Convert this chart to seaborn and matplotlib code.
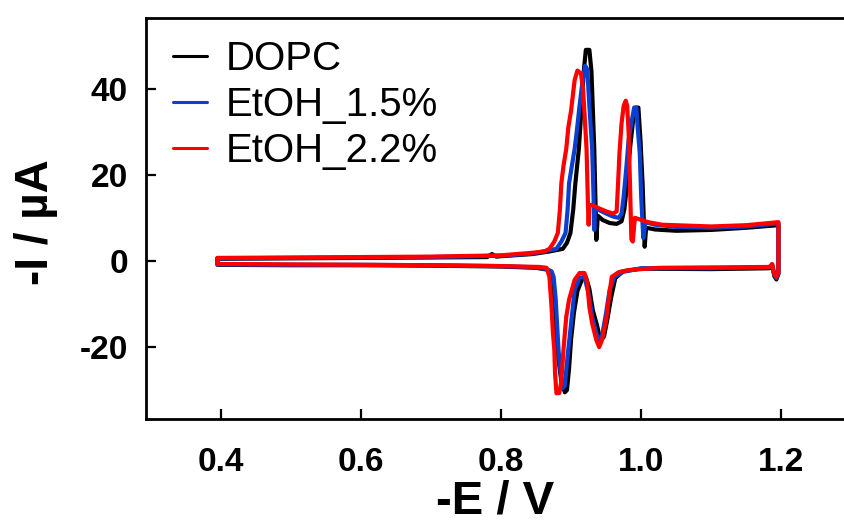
import matplotlib
matplotlib.use("Agg")
import matplotlib.pyplot as plt
import seaborn as sns

# cyclic voltammograms, potential in V (-E), current in uA (-I)
# path: upper branch left -> right, drop at 1.196 V, lower branch right -> left

dopc_e = [0.395, 0.50, 0.60, 0.70, 0.78, 0.787, 0.793, 0.80, 0.845, 0.869, 0.888,
          0.894, 0.899, 0.903, 0.906, 0.911, 0.915, 0.918, 0.921, 0.926, 0.929, 0.933,
          0.935, 0.936, 0.938, 0.945, 0.955, 0.965, 0.972, 0.976, 0.980, 0.984, 0.988,
          0.992, 0.996, 0.999, 1.002, 1.005, 1.007, 1.02, 1.05, 1.10, 1.15, 1.196,
          1.196, 1.193, 1.190, 1.187, 1.183, 1.10, 1.00, 0.974, 0.963, 0.957, 0.952,
          0.947, 0.942, 0.937, 0.931, 0.926, 0.921, 0.915, 0.909, 0.904, 0.900, 0.897,
          0.894, 0.891, 0.886, 0.882, 0.879, 0.876, 0.872, 0.865, 0.85, 0.80, 0.70,
          0.60, 0.50, 0.395, 0.395]
dopc_i = [0.5, 0.6, 0.7, 0.8, 0.9, 1.6, 1.0, 1.1, 1.6, 2.2, 2.8,
          4.2, 6.5, 12, 18, 26, 36, 44, 49, 49, 44, 26,
          12, 4.9, 10.5, 9.5, 8.8, 8.6, 9.2, 12, 18, 26, 32,
          35.6, 35.6, 28, 18, 3.3, 7.7, 7.3, 7.0, 7.2, 7.7, 8.3,
          -3.0, -4.3, -3.5, -1.0, -1.7, -1.9, -1.8, -2.4, -4.0, -8.6, -13.3,
          -17.5, -18.6, -15.0, -11.5, -6.5, -3.7, -4.5, -7.0, -12, -18, -25,
          -30, -30.5, -28, -23, -17, -9, -3.0, -2.0, -1.6, -1.3, -1.1,
          -1.0, -1.0, -0.9, 0.5]

etoh15_e = [0.395, 0.50, 0.60, 0.70, 0.80, 0.845, 0.869, 0.879, 0.886, 0.892,
            0.895, 0.897, 0.905, 0.908, 0.912, 0.916, 0.920, 0.923, 0.926, 0.930,
            0.932, 0.933, 0.934, 0.940, 0.950, 0.960, 0.968, 0.972, 0.975, 0.979,
            0.982, 0.986, 0.990, 0.993, 0.995, 0.998, 1.000, 1.003, 1.006, 1.02,
            1.05, 1.10, 1.15, 1.196,
            1.196, 1.193, 1.190, 1.187, 1.183, 1.10, 1.00, 0.975, 0.962, 0.955,
            0.950, 0.944, 0.940, 0.936, 0.930, 0.926, 0.919, 0.912, 0.905, 0.900,
            0.895, 0.891, 0.888, 0.885, 0.882, 0.880, 0.878, 0.875, 0.872, 0.865,
            0.85, 0.80, 0.70, 0.60, 0.50, 0.395, 0.395]
etoh15_i = [0.6, 0.7, 0.8, 0.9, 1.2, 1.7, 2.5, 2.8, 4.5, 6.5,
            12, 18, 26, 30, 36, 41.4, 45.3, 44.5, 36, 26,
            15, 7.2, 12.5, 11.8, 11.0, 10.3, 10.0, 11, 15, 22,
            28, 32, 35.6, 35.6, 31, 25, 15, 5.3, 9.0, 8.4,
            7.9, 7.7, 8.0, 8.7,
            -2.8, -4.0, -3.2, -0.9, -1.5, -1.7, -1.7, -2.5, -3.7, -6.7,
            -12, -17.5, -18.4, -16.7, -13, -8.4, -3.7, -3.9, -6.7, -14.4,
            -22, -29, -29.5, -26, -20.7, -15, -9, -3.7, -2.4, -1.9,
            -1.5, -1.2, -1.0, -0.9, -0.9, -0.8, 0.6]

etoh22_e = [0.395, 0.50, 0.60, 0.70, 0.80, 0.845, 0.862, 0.869, 0.876, 0.881,
            0.884, 0.886, 0.889, 0.893, 0.896, 0.900, 0.905, 0.909, 0.914, 0.917,
            0.922, 0.924, 0.925, 0.926, 0.930, 0.940, 0.950, 0.960, 0.965, 0.967,
            0.969, 0.972, 0.975, 0.978, 0.980, 0.982, 0.984, 0.986, 0.988, 0.991,
            0.995, 1.01, 1.03, 1.10, 1.15, 1.196,
            1.196, 1.193, 1.190, 1.187, 1.183, 1.10, 1.026, 0.983, 0.968, 0.958,
            0.954, 0.950, 0.944, 0.940, 0.936, 0.930, 0.926, 0.923, 0.919, 0.912,
            0.905, 0.897, 0.893, 0.889, 0.886, 0.883, 0.879, 0.877, 0.876, 0.874,
            0.872, 0.869, 0.865, 0.855, 0.80, 0.70, 0.60, 0.50, 0.395, 0.395]
etoh22_i = [0.7, 0.8, 0.9, 1.0, 1.3, 1.9, 2.2, 2.8, 4.5, 6.5,
            12, 18, 22, 26, 31, 35, 42, 44.2, 43.5, 40,
            26, 13, 8.4, 13, 13, 12.2, 11.5, 11.0, 11.5, 18,
            25, 32, 36, 37.2, 36, 30, 18, 5.0, 4.5, 10,
            9.8, 9.0, 8.4, 8.0, 8.3, 9.0,
            -2.5, -3.7, -3.0, -0.7, -1.4, -1.5, -1.6, -2.1, -2.6, -3.7,
            -8.4, -13.7, -18.4, -20, -18.4, -14.5, -10.7, -5.0, -2.8, -2.8,
            -4.4, -9.0, -13, -20.7, -28, -30.7, -30.7, -26, -20.7, -16.7,
            -10.7, -3.7, -1.6, -1.4, -1.2, -1.0, -0.9, -0.8, -0.7, 0.7]

series = [
    ("DOPC", dopc_e, dopc_i, "black"),
    ("EtOH_1.5%", etoh15_e, etoh15_i, "#0b3fd0"),
    ("EtOH_2.2%", etoh22_e, etoh22_i, "#ff0000"),
]

sns.set_style("ticks")
plt.rcParams["font.family"] = ["Liberation Sans", "DejaVu Sans"]
plt.rcParams["axes.unicode_minus"] = False
for key in ["text.color", "axes.labelcolor", "xtick.color", "ytick.color",
            "axes.edgecolor"]:
    plt.rcParams[key] = "black"

fig = plt.figure(figsize=(8.45, 5.26), dpi=100)
ax = fig.add_axes([146 / 845, 107 / 526, 699 / 845, 401 / 526])

for name, e, i, c in series:
    sns.lineplot(x=e, y=i, sort=False, estimator=None, color=c, lw=3,
                 label=name, ax=ax)

ax.set_xlim(0.293, 1.291)
ax.set_ylim(-36.7, 56.4)
ax.set_xticks([0.4, 0.6, 0.8, 1.0, 1.2])
ax.set_xticklabels(["0.4", "0.6", "0.8", "1.0", "1.2"])
ax.set_yticks([-20, 0, 20, 40])
ax.set_yticklabels(["-20", "0", "20", "40"])

ax.tick_params(direction="in", length=7, width=1.6, labelsize=24, colors="black")
ax.tick_params(axis="x", pad=20)
ax.tick_params(axis="y", pad=13)
for lab in ax.get_xticklabels() + ax.get_yticklabels():
    lab.set_fontweight("bold")

for side in ["left", "bottom", "top"]:
    ax.spines[side].set_linewidth(2)
    ax.spines[side].set_color("black")
ax.spines["right"].set_visible(False)

ax.set_xlabel("-E / V", fontsize=34, fontweight="bold")
ax.set_ylabel("-I / µA", fontsize=33, fontweight="bold")
ax.xaxis.set_label_coords(0.5, -0.152)
ax.yaxis.set_label_coords(-0.1256, 0.491)

leg = ax.legend(loc="upper left", bbox_to_anchor=(0.0386, 0.945), frameon=False,
                fontsize=29, handlelength=0.85, handletextpad=0.45,
                labelspacing=0.2, borderpad=0, borderaxespad=0)
for ln in leg.get_lines():
    ln.set_linewidth(2.2)

fig.savefig("out.png", dpi=100)
